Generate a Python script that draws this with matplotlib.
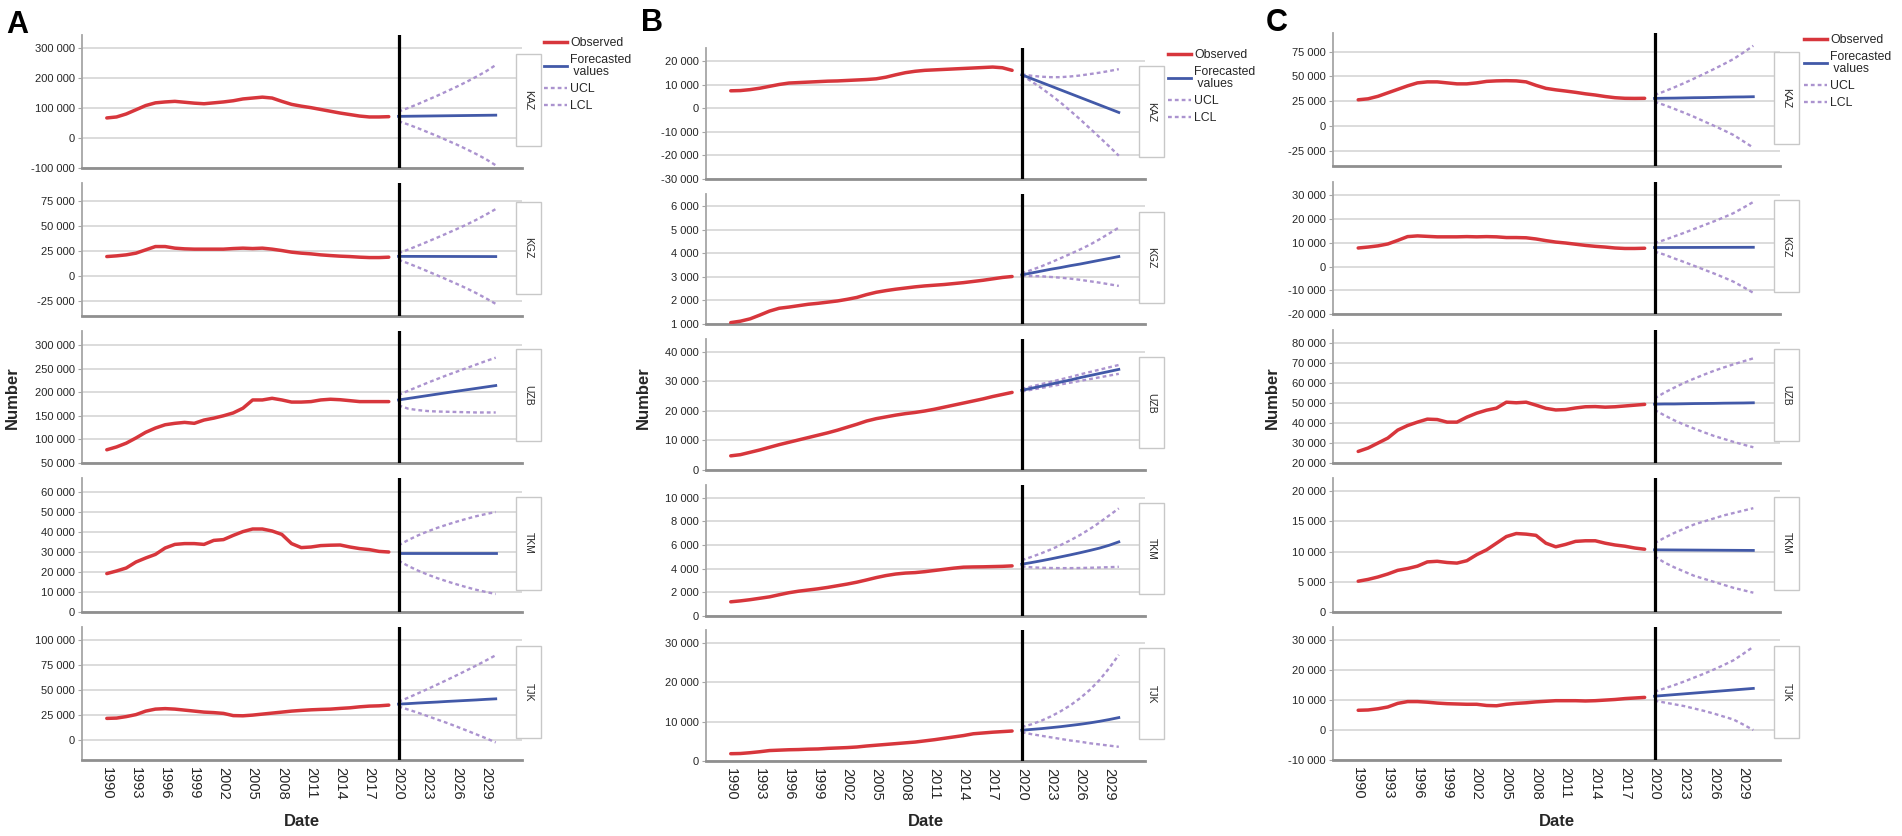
import matplotlib
matplotlib.use('Agg')
import matplotlib.pyplot as plt
from matplotlib.lines import Line2D
from matplotlib.patches import Rectangle
from matplotlib.ticker import FuncFormatter

plt.rcParams['font.family'] = ['Liberation Sans', 'DejaVu Sans']

years_obs = list(range(1990, 2020))
years_fc = list(range(2020, 2031))
countries = ['KAZ', 'KGZ', 'UZB', 'TKM', 'TJK']
xtick_years = [1990, 1993, 1996, 1999, 2002, 2005, 2008, 2011, 2014, 2017, 2020, 2023, 2026, 2029]

# panel A
a_kaz_obs = [66700, 70000, 80000, 94000, 108000, 117000, 120000, 122000, 119000, 116000, 114000, 117000, 120000, 124000, 130000,
             133000, 136000, 133000, 122000, 112000, 106000, 101000, 95000, 89000, 83000, 78000, 73000, 70000, 70000, 71000]
a_kaz_fc = [72000, 72400, 72800, 73200, 73600, 74000, 74400, 74800, 75200, 75600, 76000]
a_kaz_ucl = [88000, 100000, 113000, 127000, 141000, 156000, 171000, 187000, 204000, 222000, 243000]
a_kaz_lcl = [56000, 44800, 32600, 19400, 6200, -8000, -22200, -37400, -53600, -70800, -91000]

a_kgz_obs = [19300, 20000, 21000, 22700, 26000, 29300, 29300, 27700, 27000, 26700, 26700, 26700, 26700, 27300, 27700,
             27300, 27700, 26700, 25300, 23700, 22700, 22000, 21000, 20300, 19700, 19300, 18700, 18300, 18300, 18700]
a_kgz_fc = [19500, 19480, 19460, 19440, 19420, 19400, 19380, 19360, 19340, 19320, 19300]
a_kgz_ucl = [22700, 26300, 30200, 34200, 38300, 42500, 46800, 51200, 56000, 61200, 66700]
a_kgz_lcl = [16100, 12500, 8600, 4600, 500, -3700, -8000, -12400, -17200, -22400, -27900]

a_uzb_obs = [78000, 84000, 92000, 103000, 115000, 124000, 131000, 134000, 136000, 134000, 141000, 145000, 150000, 156000, 166000,
             183500, 183500, 187000, 183500, 179000, 179000, 180000, 183500, 185000, 184000, 182000, 180000, 180000, 180000, 180000]
a_uzb_fc = [183500, 186600, 189700, 192800, 195900, 199000, 202000, 205000, 208000, 211000, 214000]
a_uzb_ucl = [194000, 203000, 211500, 220000, 228000, 236000, 243500, 251000, 258500, 266000, 273000]
a_uzb_lcl = [172000, 165000, 162000, 160000, 159000, 158500, 158000, 157500, 157000, 157000, 157000]

a_tkm_obs = [19200, 20500, 22000, 25000, 27000, 28800, 32000, 33800, 34200, 34200, 33800, 35800, 36200, 38300, 40200,
             41500, 41500, 40500, 38800, 34200, 32200, 32500, 33200, 33400, 33500, 32500, 31700, 31200, 30300, 30000]
a_tkm_fc = [29500, 29500, 29500, 29500, 29500, 29500, 29500, 29500, 29500, 29500, 29500]
a_tkm_ucl = [33300, 36000, 38300, 40300, 42100, 43700, 45200, 46600, 47900, 49000, 50000]
a_tkm_lcl = [25700, 23000, 20700, 18700, 16900, 15300, 13800, 12400, 11100, 10000, 9000]

a_tjk_obs = [21700, 22000, 23500, 25500, 29000, 31000, 31500, 31000, 30000, 29000, 28000, 27500, 26700, 24500, 24300,
             25000, 26000, 27000, 28000, 29000, 29700, 30300, 30700, 31000, 31700, 32300, 33300, 34000, 34300, 35000]
a_tjk_fc = [36000, 36500, 37100, 37600, 38100, 38700, 39200, 39700, 40200, 40800, 41300]
a_tjk_ucl = [38300, 42500, 46800, 51200, 55700, 60300, 65000, 69800, 74700, 79800, 85000]
a_tjk_lcl = [33700, 30500, 27400, 24000, 20500, 17100, 13400, 9600, 5700, 1800, -2400]

# panel B
b_kaz_obs = [7500, 7600, 8000, 8600, 9400, 10200, 10800, 11000, 11200, 11400, 11600, 11700, 11900, 12100, 12300,
             12600, 13300, 14300, 15200, 15800, 16200, 16400, 16600, 16800, 17000, 17200, 17400, 17600, 17300, 16200]
b_kaz_fc = [14300, 12700, 11100, 9500, 7900, 6300, 4700, 3100, 1500, -100, -1700]
b_kaz_ucl = [14500, 13900, 13500, 13300, 13300, 13600, 14000, 14600, 15200, 15900, 16700]
b_kaz_lcl = [14100, 11500, 8700, 5700, 2500, -1000, -4600, -8400, -12200, -16100, -20100]

b_kgz_obs = [1060, 1120, 1220, 1380, 1550, 1670, 1720, 1780, 1840, 1880, 1930, 1980, 2050, 2130, 2250,
             2350, 2420, 2480, 2530, 2580, 2620, 2650, 2680, 2720, 2760, 2810, 2860, 2920, 2980, 3020]
b_kgz_fc = [3090, 3170, 3250, 3330, 3400, 3480, 3550, 3630, 3710, 3790, 3870]
b_kgz_ucl = [3150, 3300, 3450, 3620, 3800, 3980, 4170, 4370, 4600, 4850, 5100]
b_kgz_lcl = [3050, 3040, 3030, 3000, 2970, 2930, 2880, 2820, 2760, 2690, 2620]

b_uzb_obs = [4800, 5200, 6000, 6800, 7700, 8600, 9400, 10200, 11000, 11800, 12600, 13500, 14500, 15500, 16600,
             17400, 18000, 18600, 19100, 19500, 20000, 20600, 21300, 22000, 22700, 23400, 24100, 24900, 25600, 26300]
b_uzb_fc = [27000, 27700, 28400, 29100, 29800, 30500, 31300, 32000, 32700, 33400, 34100]
b_uzb_ucl = [27500, 28300, 29100, 29900, 30700, 31500, 32400, 33200, 34000, 34800, 35600]
b_uzb_lcl = [26600, 27200, 27800, 28400, 29000, 29600, 30200, 30800, 31400, 32000, 32600]

b_tkm_obs = [1200, 1280, 1380, 1500, 1620, 1800, 1970, 2100, 2200, 2300, 2420, 2560, 2700, 2860, 3050,
             3250, 3420, 3550, 3630, 3670, 3750, 3850, 3950, 4050, 4130, 4150, 4160, 4180, 4200, 4240]
b_tkm_fc = [4380, 4520, 4670, 4830, 5000, 5170, 5350, 5540, 5740, 5980, 6270]
b_tkm_ucl = [4720, 5000, 5300, 5630, 6000, 6400, 6850, 7350, 7900, 8500, 9100]
b_tkm_lcl = [4200, 4120, 4080, 4060, 4050, 4050, 4060, 4080, 4100, 4130, 4160]

b_tjk_obs = [1850, 1900, 2100, 2350, 2650, 2750, 2850, 2900, 3000, 3050, 3200, 3300, 3400, 3550, 3800,
             4000, 4200, 4400, 4600, 4800, 5100, 5400, 5750, 6100, 6450, 6900, 7100, 7300, 7450, 7600]
b_tjk_fc = [7800, 8000, 8200, 8450, 8700, 9000, 9300, 9650, 10050, 10500, 11000]
b_tjk_ucl = [8600, 9300, 10200, 11300, 12600, 14100, 15900, 18000, 20500, 23500, 26900]
b_tjk_lcl = [7300, 6800, 6400, 6000, 5600, 5200, 4900, 4500, 4200, 3900, 3600]

# panel C
c_kaz_obs = [26500, 27500, 30000, 33500, 37000, 40500, 43500, 44500, 44500, 43500, 42500, 42500, 43500, 45000, 45500,
             45700, 45500, 44500, 41000, 38000, 36500, 35300, 34000, 32500, 31300, 29800, 28600, 28000, 27900, 28000]
c_kaz_fc = [27900, 28100, 28200, 28400, 28600, 28700, 28900, 29100, 29300, 29400, 29600]
c_kaz_ucl = [31300, 35000, 39000, 43300, 47800, 52500, 57300, 62300, 67500, 74000, 80800]
c_kaz_lcl = [24500, 21200, 17400, 13500, 9400, 4900, 500, -4100, -8900, -15200, -21600]

c_kgz_obs = [7800, 8200, 8700, 9500, 11000, 12600, 12900, 12700, 12500, 12500, 12500, 12600, 12500, 12600, 12500,
             12200, 12200, 12100, 11600, 10900, 10300, 9900, 9400, 8900, 8500, 8200, 7800, 7600, 7600, 7700]
c_kgz_fc = [8000, 8010, 8020, 8030, 8040, 8050, 8060, 8070, 8080, 8090, 8100]
c_kgz_ucl = [9800, 11200, 12700, 14200, 15800, 17400, 19000, 20700, 22500, 24800, 27200]
c_kgz_lcl = [6300, 5000, 3400, 1900, 300, -1300, -2900, -4600, -6400, -8700, -11100]

c_uzb_obs = [25800, 27500, 30000, 32500, 36500, 38800, 40500, 42000, 41800, 40500, 40500, 43000, 45000, 46500, 47500,
             50500, 50200, 50500, 49000, 47400, 46600, 46800, 47600, 48200, 48300, 48000, 48200, 48600, 49000, 49400]
c_uzb_fc = [49500, 49600, 49600, 49700, 49800, 49850, 49900, 50000, 50050, 50100, 50200]
c_uzb_ucl = [52400, 55300, 57800, 60200, 62300, 64300, 66200, 67900, 69500, 71000, 72500]
c_uzb_lcl = [46600, 43900, 41400, 39200, 37300, 35400, 33600, 32100, 30600, 29200, 27900]

c_tkm_obs = [5100, 5400, 5800, 6300, 6900, 7200, 7600, 8300, 8400, 8200, 8100, 8500, 9500, 10300, 11400,
             12500, 13000, 12900, 12700, 11400, 10800, 11200, 11700, 11800, 11800, 11400, 11100, 10900, 10600, 10400]
c_tkm_fc = [10300, 10290, 10280, 10270, 10260, 10250, 10240, 10230, 10220, 10210, 10200]
c_tkm_ucl = [11400, 12300, 13100, 13800, 14500, 15000, 15500, 16000, 16400, 16800, 17200]
c_tkm_lcl = [9200, 8200, 7400, 6700, 6000, 5500, 5000, 4500, 4000, 3600, 3200]

c_tjk_obs = [6600, 6700, 7100, 7700, 8900, 9500, 9500, 9300, 9000, 8800, 8700, 8600, 8600, 8200, 8100,
             8600, 8900, 9100, 9400, 9600, 9800, 9800, 9800, 9700, 9800, 10000, 10200, 10500, 10700, 10900]
c_tjk_fc = [11300, 11560, 11820, 12080, 12340, 12600, 12860, 13120, 13380, 13640, 13900]
c_tjk_ucl = [12800, 13900, 15000, 16200, 17500, 18800, 20200, 21700, 23300, 25500, 27800]
c_tjk_lcl = [9800, 9200, 8600, 8000, 7200, 6400, 5500, 4500, 3500, 1800, 0]

series = {
    'A': [(a_kaz_obs, a_kaz_fc, a_kaz_ucl, a_kaz_lcl), (a_kgz_obs, a_kgz_fc, a_kgz_ucl, a_kgz_lcl),
          (a_uzb_obs, a_uzb_fc, a_uzb_ucl, a_uzb_lcl), (a_tkm_obs, a_tkm_fc, a_tkm_ucl, a_tkm_lcl),
          (a_tjk_obs, a_tjk_fc, a_tjk_ucl, a_tjk_lcl)],
    'B': [(b_kaz_obs, b_kaz_fc, b_kaz_ucl, b_kaz_lcl), (b_kgz_obs, b_kgz_fc, b_kgz_ucl, b_kgz_lcl),
          (b_uzb_obs, b_uzb_fc, b_uzb_ucl, b_uzb_lcl), (b_tkm_obs, b_tkm_fc, b_tkm_ucl, b_tkm_lcl),
          (b_tjk_obs, b_tjk_fc, b_tjk_ucl, b_tjk_lcl)],
    'C': [(c_kaz_obs, c_kaz_fc, c_kaz_ucl, c_kaz_lcl), (c_kgz_obs, c_kgz_fc, c_kgz_ucl, c_kgz_lcl),
          (c_uzb_obs, c_uzb_fc, c_uzb_ucl, c_uzb_lcl), (c_tkm_obs, c_tkm_fc, c_tkm_ucl, c_tkm_lcl),
          (c_tjk_obs, c_tjk_fc, c_tjk_ucl, c_tjk_lcl)],
}

# y axes: (bottom, top, first tick, last tick, step)
yaxes = {
    'A': [(-100000, 343000, -100000, 300000, 100000), (-40000, 92700, -25000, 75000, 25000),
          (50000, 329500, 50000, 300000, 50000), (0, 67000, 0, 60000, 10000),
          (-20000, 113300, 0, 100000, 25000)],
    'B': [(-30000, 25700, -30000, 20000, 10000), (1000, 6530, 1000, 6000, 1000),
          (0, 44400, 0, 40000, 10000), (0, 11080, 0, 10000, 2000),
          (0, 33200, 0, 30000, 10000)],
    'C': [(-40000, 93600, -25000, 75000, 25000), (-20000, 35600, -20000, 30000, 10000),
          (20000, 86700, 20000, 80000, 10000), (0, 22200, 0, 20000, 5000),
          (-10000, 34400, -10000, 30000, 10000)],
}

# layout in pixels
W, H = 1902, 836
layout = {
    'A': dict(left=82, right=522, rows=[(35, 168), (183, 316), (331, 463), (478, 612), (627, 760)],
              letter=(6, 33), leg=(544, 37), ylab=12),
    'B': dict(left=706, right=1145, rows=[(48, 179), (194, 324), (339, 470), (485, 616), (630, 761)],
              letter=(641, 31), leg=(1168, 49), ylab=643),
    'C': dict(left=1333, right=1780, rows=[(33, 166), (182, 314), (330, 463), (478, 612), (627, 760)],
              letter=(1266, 31), leg=(1804, 34), ylab=1272),
}

RED = '#d7363c'
BLUE = '#4259a8'
PURPLE = '#ab93cf'
GRID = '#d9d9d9'
SPINE = '#8f8f8f'
TXT = '#262626'
DOTS = (0, (1.6, 1.3))

fmt = FuncFormatter(lambda v, p: '{:,.0f}'.format(v).replace(',', ' '))

fig = plt.figure(figsize=(W / 100, H / 100), dpi=100)

for key in ['A', 'B', 'C']:
    lay = layout[key]
    left, right = lay['left'], lay['right']
    axes = []
    for i, (top, bottom) in enumerate(lay['rows']):
        ax = fig.add_axes([left / W, 1 - bottom / H, (right - left) / W, (bottom - top) / H])
        axes.append(ax)
        obs, fc, ucl, lcl = series[key][i]
        ymin, ymax, t0, t1, step = yaxes[key][i]
        ax.plot(years_obs, obs, color=RED, lw=2.5, solid_capstyle='round', zorder=4)
        ax.plot(years_fc, ucl, color=PURPLE, lw=1.7, ls=DOTS, zorder=3)
        ax.plot(years_fc, lcl, color=PURPLE, lw=1.7, ls=DOTS, zorder=3)
        ax.plot(years_fc, fc, color=BLUE, lw=2.0, zorder=4)
        ax.axvline(2020, color='black', lw=2.3, zorder=5)
        ax.set_xlim(1987.45, 2032.7)
        ax.set_ylim(ymin, ymax)
        ax.set_yticks(list(range(t0, t1 + 1, step)))
        ax.yaxis.set_major_formatter(fmt)
        ax.grid(axis='y', color=GRID, lw=1.3, zorder=0)
        ax.set_axisbelow(True)
        for s in ['top', 'right']:
            ax.spines[s].set_visible(False)
        ax.spines['left'].set_color('#a6a6a6')
        ax.spines['left'].set_linewidth(1.3)
        ax.spines['bottom'].set_color(SPINE)
        ax.spines['bottom'].set_linewidth(2.0)
        ax.tick_params(axis='y', labelsize=8, labelcolor=TXT, color='#a6a6a6', length=3, width=0.8, pad=2)
        ax.set_xticks(xtick_years)
        if i < 4:
            ax.tick_params(axis='x', length=0, labelbottom=False)
        else:
            ax.set_xticklabels([str(y) for y in xtick_years], rotation=270, fontsize=10.5, color=TXT)
            ax.tick_params(axis='x', length=0, pad=5)
        # facet strip on the right
        wpx = right - left
        ax.add_patch(Rectangle((1 - 6 / wpx, 0.165), 25 / wpx, 0.695, transform=ax.transAxes,
                               facecolor='white', edgecolor='#c8c8c8', lw=1.0, clip_on=False, zorder=6))
        ax.text(1 + 6.5 / wpx, 0.5125, countries[i], transform=ax.transAxes, rotation=270,
                ha='center', va='center', fontsize=7.5, color=TXT, zorder=7)

    handles = [Line2D([], [], color=RED, lw=2.5),
               Line2D([], [], color=BLUE, lw=2.0),
               Line2D([], [], color=PURPLE, lw=1.7, ls=DOTS),
               Line2D([], [], color=PURPLE, lw=1.7, ls=DOTS)]
    labels = ['Observed', 'Forecasted\n values', 'UCL', 'LCL']
    lx, ly = lay['leg']
    leg = axes[0].legend(handles, labels, loc='upper left', bbox_to_anchor=(lx / W, 1 - ly / H),
                         bbox_transform=fig.transFigure, frameon=False, fontsize=8.8,
                         handlelength=1.9, handletextpad=0.25, labelspacing=0.42,
                         borderpad=0, borderaxespad=0)
    for t in leg.get_texts():
        t.set_color(TXT)
        t.set_linespacing(0.95)

    fig.text(lay['letter'][0] / W, 1 - lay['letter'][1] / H, key, fontsize=22, fontweight='bold',
             ha='left', va='baseline')
    fig.text(lay['ylab'] / W, 1 - 398 / H, 'Number', rotation=90, fontsize=12, fontweight='bold',
             ha='center', va='center', color=TXT)
    fig.text((left + right) / 2 / W, 1 - 822 / H, 'Date', fontsize=12, fontweight='bold',
             ha='center', va='center', color=TXT)

fig.savefig('out.png', dpi=100)
